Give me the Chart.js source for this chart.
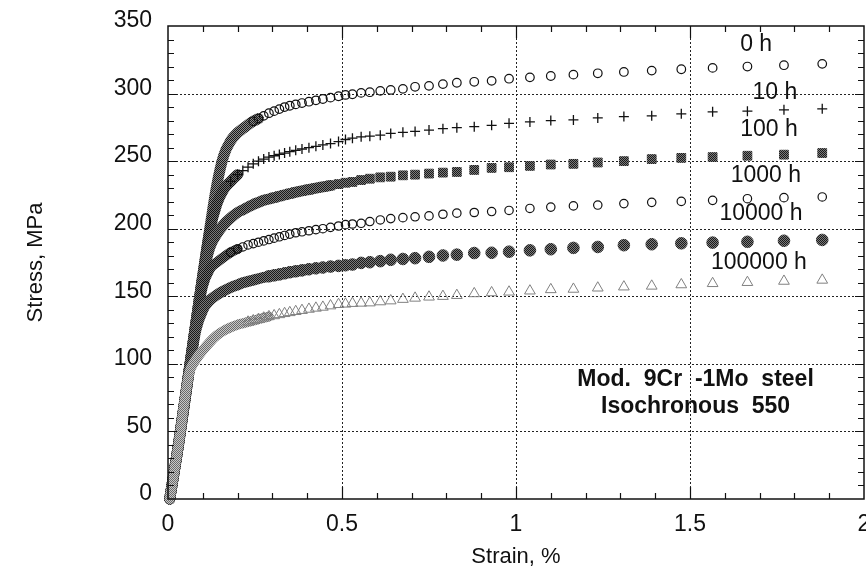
<!DOCTYPE html>
<html>
<head>
<meta charset="utf-8">
<title>Mod. 9Cr-1Mo steel isochronous curves</title>
<script src="https://cdn.jsdelivr.net/npm/chart.js@4.4.1/dist/chart.umd.min.js"></script>
<style>
  body { margin: 0; background: #fff; }
  #wrap { width: 866px; height: 570px; }
</style>
</head>
<body>
<div id="wrap"><canvas id="chart" width="866" height="570"></canvas></div>
<script>
// strain (%) shared by all curves
const strain = [0.005, 0.03, 0.06, 0.08, 0.10, 0.12, 0.14, 0.16, 0.18, 0.20,
  0.215, 0.23, 0.245, 0.26, 0.275, 0.29, 0.305, 0.32, 0.335, 0.35,
  0.367, 0.385, 0.405, 0.425, 0.445, 0.467, 0.49, 0.51, 0.53, 0.555,
  0.58, 0.61, 0.64, 0.675, 0.71, 0.75, 0.79, 0.83, 0.88, 0.93,
  0.98, 1.04, 1.10, 1.165, 1.235, 1.31, 1.39, 1.475, 1.565, 1.665,
  1.77, 1.88];

// stress (MPa) for each time
const stress0h = [0, 40, 94, 130, 166, 200, 232, 254, 265, 271,
  274, 277, 279.5, 281.5, 283.5, 285.5, 287, 288.5, 290, 291,
  292, 293, 294, 295, 296, 297, 298, 299, 299.5, 300.5,
  301, 302, 302.7, 303.5, 305, 305.7, 307, 308, 308.7, 309.4,
  311, 312, 313, 314, 315, 316, 317, 318, 319, 320,
  321, 322];
const stress10h = [0, 40, 94, 130, 165, 198, 218, 229, 235, 240,
  243, 245.5, 248, 250, 251.5, 253, 254, 255, 256, 257,
  258, 259, 260, 261, 262, 263, 264.5, 266, 267, 268,
  268.5, 269.2, 270.5, 271.3, 272, 273, 274, 274.8, 275.5, 276.5,
  278, 279, 280, 280.5, 282, 283, 283.5, 285, 286.5, 287,
  288, 288.7];
const stress100h = [0, 40, 94, 130, 164, 186, 196, 203, 208, 212,
  214, 216, 218, 219.5, 221, 222, 223, 224, 225, 226,
  227, 228, 229, 230, 231, 232, 233, 234, 234.6, 236,
  237, 238, 238.5, 239.5, 240, 240.8, 241.5, 242, 243.5, 245,
  245.5, 246.5, 247.5, 248, 249, 250, 251.5, 252.4, 253, 254,
  254.8, 256];
const stress1000h = [0, 40, 94, 128, 157, 170, 175, 179, 182.5, 185,
  186.5, 188, 189, 190, 191, 192, 193, 194, 195, 196,
  197, 197.7, 198.5, 199.3, 200, 201, 202, 203, 203.5, 204,
  205.3, 206.5, 207.5, 208.2, 208.8, 209.5, 210.7, 211.5, 212, 212.7,
  213.5, 215, 216, 216.9, 217.5, 218.6, 219.5, 220.2, 221, 222.2,
  223, 223.5];
const stress10000h = [0, 40, 94, 125, 140, 147, 151, 154, 156.5, 158.5,
  160, 161, 162, 163, 164, 164.8, 165.5, 166.2, 167, 167.8,
  168.5, 169.2, 170, 170.7, 171.3, 172, 172.5, 173, 173.5, 174.7,
  175.2, 176, 177, 177.6, 178.2, 179.2, 180.2, 180.8, 182, 182.2,
  183, 184, 184.8, 185.8, 186.5, 187.8, 188.5, 189.2, 189.7, 190.3,
  191.1, 191.7];
const stress100000h = [0, 40, 92, 103, 110, 116, 121, 124.5, 127, 129,
  130, 131, 132, 133, 134, 135, 135.7, 136.5, 137.3, 138,
  138.8, 139.6, 140.5, 141.3, 142, 143, 144, 144.3, 144.8, 145,
  145.2, 146, 146.7, 147.8, 148.7, 149.5, 150, 150.7, 152, 152.7,
  153.2, 154, 155, 155.3, 156.2, 157, 157.6, 158.6, 159.5, 160.3,
  161.2, 162];

const seriesNames = ['0 h', '10 h', '100 h', '1000 h', '10000 h', '100000 h'];
const noteLines = ['Mod.  9Cr  -1Mo  steel', 'Isochronous  550'];
const xTicks = [0, 0.5, 1, 1.5, 2];
const xTickLabels = ['0', '0.5', '1', '1.5', '2'];
const yTicks = [0, 50, 100, 150, 200, 250, 300, 350];

// where the curve names sit (strain, stress)
const nameAt = [[1.69, 336], [1.744, 301], [1.727, 273], [1.718, 239], [1.704, 211], [1.698, 175]];
const noteAt = [[1.516, 88.5], [1.516, 68]];

const canvas = document.getElementById('chart');
const ctx0 = canvas.getContext('2d');

// scanned halftone look
function halftone(a, b) {
  const c = document.createElement('canvas');
  c.width = 2; c.height = 2;
  const g = c.getContext('2d');
  g.fillStyle = b; g.fillRect(0, 0, 2, 2);
  g.fillStyle = a; g.fillRect(0, 0, 1, 1); g.fillRect(1, 1, 1, 1);
  return ctx0.createPattern(c, 'repeat');
}
const midTone = halftone('#1a1a1a', '#8e8e8e');
const darkTone = halftone('#111', '#707070');
const fillTone = halftone('#1a1a1a', '#7a7a7a');
const lightTone = halftone('#6a6a6a', '#c8c8c8');
const clear = 'rgba(0,0,0,0)';

function series(i, stress, o) {
  return {
    label: seriesNames[i],
    data: strain.map((x, k) => ({x: x, y: stress[k]})),
    order: o.order,
    showLine: true,
    borderWidth: o.width,
    borderColor: o.band,
    borderCapStyle: 'round',
    borderJoinStyle: 'round',
    cubicInterpolationMode: 'monotone',
    segment: {
      borderColor: c => c.p1.parsed.x <= o.bandEnd ? o.band : clear
    },
    pointStyle: o.style,
    pointRadius: c => (c.raw && c.raw.x >= o.markFrom) ? o.r : 0,
    pointBorderColor: o.edge,
    pointBackgroundColor: o.fill,
    pointBorderWidth: o.edgeWidth,
    clip: false
  };
}

const datasets = [
  series(0, stress0h, {order: 5, width: 11, band: midTone, bandEnd: 0.26, markFrom: 0.245, style: 'circle', r: 4.3, edge: '#111', fill: clear, edgeWidth: 1.2}),
  series(1, stress10h, {order: 4, width: 11, band: darkTone, bandEnd: 0.20, markFrom: 0.18, style: 'cross', r: 5, edge: '#111', fill: clear, edgeWidth: 1.3}),
  series(2, stress100h, {order: 3, width: 11, band: fillTone, bandEnd: 0.467, markFrom: 0.3, style: 'rect', r: 6.2, edge: fillTone, fill: fillTone, edgeWidth: 1}),
  series(3, stress1000h, {order: 2, width: 10, band: darkTone, bandEnd: 0.20, markFrom: 0.18, style: 'circle', r: 4.2, edge: '#111', fill: clear, edgeWidth: 1.2}),
  series(4, stress10000h, {order: 1, width: 11, band: fillTone, bandEnd: 0.405, markFrom: 0.29, style: 'circle', r: 5.8, edge: fillTone, fill: fillTone, edgeWidth: 1}),
  series(5, stress100000h, {order: 0, width: 10, band: lightTone, bandEnd: 0.29, markFrom: 0.23, style: 'triangle', r: 6.2, edge: '#808080', fill: clear, edgeWidth: 1})
];

const FONT = '"Liberation Sans", Arial, Helvetica, sans-serif';

const frame = {
  id: 'frame',
  beforeDatasetsDraw(chart) {
    const {ctx, chartArea: a, scales: {x, y}} = chart;
    ctx.save();
    ctx.strokeStyle = '#222';
    ctx.lineWidth = 1;
    ctx.setLineDash([2, 2]);
    ctx.beginPath();
    xTicks.slice(1, -1).forEach(v => {
      const p = Math.round(x.getPixelForValue(v)) + 0.5;
      ctx.moveTo(p, a.top); ctx.lineTo(p, a.bottom);
    });
    yTicks.slice(1, -1).forEach(v => {
      const p = Math.round(y.getPixelForValue(v)) + 0.5;
      ctx.moveTo(a.left, p); ctx.lineTo(a.right, p);
    });
    ctx.stroke();
    ctx.restore();
  },
  afterDatasetsDraw(chart) {
    const {ctx, chartArea: a, scales: {x, y}} = chart;
    ctx.save();
    ctx.strokeStyle = '#111';
    ctx.lineWidth = 1.5;
    ctx.strokeRect(a.left, a.top, a.right - a.left, a.bottom - a.top);

    ctx.lineWidth = 1.2;
    ctx.beginPath();
    for (let i = 1; i < 20; i++) {
      const p = Math.round(x.getPixelForValue(i / 10)) + 0.5;
      const len = i % 5 === 0 ? 12 : 6;
      ctx.moveTo(p, a.bottom); ctx.lineTo(p, a.bottom - len);
      ctx.moveTo(p, a.top); ctx.lineTo(p, a.top + len);
    }
    for (let i = 1; i < 35; i++) {
      const p = Math.round(y.getPixelForValue(i * 10)) + 0.5;
      const len = i % 5 === 0 ? 9 : 6;
      ctx.moveTo(a.left, p); ctx.lineTo(a.left + len, p);
      ctx.moveTo(a.right, p); ctx.lineTo(a.right - len, p);
    }
    ctx.stroke();

    ctx.fillStyle = '#111';
    ctx.textAlign = 'center';
    ctx.textBaseline = 'middle';
    // x tick labels (drawn here so the last one may run off the canvas edge)
    ctx.font = '23px ' + FONT;
    xTicks.forEach((v, i) => {
      ctx.fillText(xTickLabels[i], x.getPixelForValue(v), a.bottom + 26);
    });
    seriesNames.forEach((name, i) => {
      ctx.fillText(name, x.getPixelForValue(nameAt[i][0]), y.getPixelForValue(nameAt[i][1]));
    });
    ctx.font = 'bold 23px ' + FONT;
    noteLines.forEach((t, i) => {
      ctx.fillText(t, x.getPixelForValue(noteAt[i][0]), y.getPixelForValue(noteAt[i][1]));
    });
    ctx.restore();
  }
};

new Chart(canvas, {
  type: 'line',
  data: { datasets: datasets },
  options: {
    responsive: false,
    animation: false,
    events: [],
    layout: { autoPadding: false, padding: { top: 26, right: 2, left: 0, bottom: 0 } },
    plugins: { legend: { display: false }, tooltip: { enabled: false } },
    scales: {
      x: {
        type: 'linear',
        min: 0, max: 2,
        afterBuildTicks: s => { s.ticks = xTicks.map(v => ({value: v})); },
        afterFit: s => { s.height = 71; s.paddingLeft = 0; s.paddingRight = 0; },
        grid: { display: false, drawTicks: false },
        border: { display: false },
        ticks: { display: false },
        title: { display: true, text: 'Strain, %', color: '#111', padding: { top: 0, bottom: 0 }, font: { family: FONT, size: 22 } }
      },
      y: {
        type: 'linear',
        min: 0, max: 350,
        afterBuildTicks: s => { s.ticks = yTicks.map(v => ({value: v})); },
        afterFit: s => { s.width = 168; s.paddingTop = 0; s.paddingBottom = 0; },
        grid: { display: false, drawTicks: false },
        border: { display: false },
        ticks: { color: '#111', padding: 16, labelOffset: -5, font: { family: FONT, size: 23 } },
        title: { display: true, text: 'Stress, MPa', color: '#111', padding: { top: 23, bottom: 0 }, font: { family: FONT, size: 22 } }
      }
    }
  },
  plugins: [frame]
});
</script>
</body>
</html>
